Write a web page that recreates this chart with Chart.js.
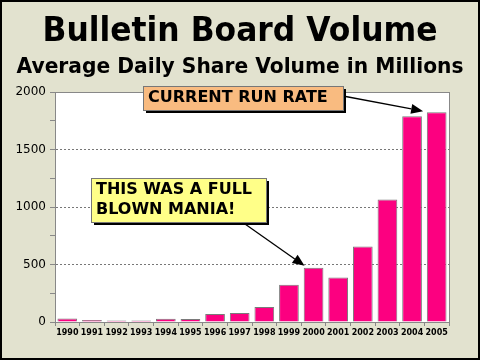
<!DOCTYPE html>
<html lang="en">
<head>
 <meta charset="UTF-8">
 <title>Bulletin Board Volume</title>
 <script src="https://cdn.jsdelivr.net/npm/chart.js"></script>
 <style>
 body { margin: 0; background: #e2e2cf; }
 </style>
</head>
<body>
 <canvas id="myChart" width="480" height="360"></canvas>
 <script>
 // Data (millions of shares per day)
 const years = ['1990', '1991', '1992', '1993', '1994', '1995', '1996', '1997',
 '1998', '1999', '2000', '2001', '2002', '2003', '2004', '2005'];
 const volume = [30, 18, 14, 14, 28, 27, 70, 78, 131, 325, 471, 387, 657, 1066, 1790, 1825];
 const yTicks = [0, 500, 1000, 1500, 2000];

 const titleText = 'Bulletin Board Volume';
 const subtitleText = 'Average Daily Share Volume in Millions';
 const noteMania = ['THIS WAS A FULL', 'BLOWN MANIA!'];
 const noteRun = ['CURRENT RUN RATE'];

 function arrow(ctx, x1, y1, x2, y2) {
 const a = Math.atan2(y2 - y1, x2 - x1);
 const len = 12, w = 5;
 const bx = x2 - len * Math.cos(a), by = y2 - len * Math.sin(a);
 ctx.strokeStyle = '#000';
 ctx.lineWidth = 1.3;
 ctx.beginPath();
 ctx.moveTo(x1, y1);
 ctx.lineTo(bx, by);
 ctx.stroke();
 ctx.fillStyle = '#000';
 ctx.beginPath();
 ctx.moveTo(x2, y2);
 ctx.lineTo(bx + w * Math.sin(a), by - w * Math.cos(a));
 ctx.lineTo(bx - w * Math.sin(a), by + w * Math.cos(a));
 ctx.closePath();
 ctx.fill();
 }

 function noteBox(ctx, x, y, w, h, fill, lines) {
 ctx.fillStyle = '#000';
 ctx.fillRect(x + 3, y + 3, w, h);
 ctx.fillStyle = fill;
 ctx.fillRect(x, y, w, h);
 ctx.strokeStyle = '#777';
 ctx.lineWidth = 1;
 ctx.strokeRect(x + 0.5, y + 0.5, w, h);
 ctx.fillStyle = '#000';
 ctx.font = 'bold 16px "DejaVu Sans"';
 ctx.textAlign = 'left';
 ctx.textBaseline = 'middle';
 lines.forEach((t, i) => ctx.fillText(t, x + 5, y + 12 + i * 20, w - 10));
 }

 const decor = {
 id: 'decor',
 beforeDraw(chart) {
 const { ctx, chartArea: a } = chart;
 ctx.save();
 ctx.fillStyle = '#e2e2cf';
 ctx.fillRect(0, 0, chart.width, chart.height);
 ctx.fillStyle = '#ffffff';
 ctx.fillRect(a.left, a.top, a.right - a.left, a.bottom - a.top);
 ctx.strokeStyle = '#000';
 ctx.lineWidth = 2;
 ctx.strokeRect(1, 1, chart.width - 2, chart.height - 2);
 // titles
 ctx.fillStyle = '#000';
 ctx.textAlign = 'center';
 ctx.textBaseline = 'alphabetic';
 ctx.font = 'bold 33px "DejaVu Sans"';
 ctx.fillText(titleText, 240, 41, 395);
 ctx.font = 'bold 21px "DejaVu Sans"';
 ctx.fillText(subtitleText, 240, 73, 447);
 ctx.restore();
 },
 afterDatasetsDraw(chart) {
 const { ctx, chartArea: a, scales: { x, y } } = chart;
 ctx.save();
 ctx.strokeStyle = '#888';
 ctx.lineWidth = 1;
 ctx.strokeRect(a.left + 0.5, a.top + 0.5, a.right - a.left, a.bottom - a.top);
 // arrow to 2000 bar
 const i00 = years.indexOf('2000');
 arrow(ctx, 245, 224, x.getPixelForValue(i00) - 9, y.getPixelForValue(volume[i00]) - 2);
 // arrow to the last two bars
 const i04 = years.indexOf('2004'), i05 = years.indexOf('2005');
 const tx = x.getPixelForValue(i04) + 0.45 * (x.getPixelForValue(i05) - x.getPixelForValue(i04));
 arrow(ctx, 343, 96, tx, y.getPixelForValue(volume[i05]) - 1);
 noteBox(ctx, 91, 178, 175, 44, '#ffff88', noteMania);
 noteBox(ctx, 143, 86, 200, 24, '#f9bb80', noteRun);
 ctx.restore();
 }
 };

 const ctx = document.getElementById('myChart').getContext('2d');
 new Chart(ctx, {
 type: 'bar',
 data: {
 labels: years,
 datasets: [{
 data: volume,
 backgroundColor: '#fc0080',
 borderColor: '#7a7a7a',
 borderWidth: 1,
 barPercentage: 0.8,
 categoryPercentage: 1
 }]
 },
 options: {
 responsive: false,
 animation: false,
 layout: { padding: { left: 10, right: 31, top: 92, bottom: 14 } },
 plugins: { legend: { display: false }, tooltip: { enabled: false } },
 scales: {
 x: {
 afterFit: s => { s.height = 24; },
 grid: { offset: true, drawOnChartArea: false, tickLength: 4, color: '#888' },
 border: { color: '#888' },
 ticks: { color: '#000', font: { family: 'DejaVu Sans', size: 8, weight: 'bold' }, maxRotation: 0, autoSkip: false, padding: 2 }
 },
 y: {
 min: 0,
 max: 2000,
 afterFit: s => { s.width = 45; },
 afterBuildTicks: s => {
 s.ticks = [];
 for (let v = 0; v <= 2000; v += 250) s.ticks.push({ value: v });
 },
 grid: {
 color: c => (c.tick && c.tick.value % 500 === 0 && c.tick.value > 0 && c.tick.value < 2000) ? '#777' : 'rgba(0,0,0,0)',
 tickColor: '#888',
 tickLength: 5
 },
 border: { color: '#888', dash: [2, 2] },
 ticks: {
 color: '#000',
 padding: 4,
 font: { family: 'DejaVu Sans', size: 12 },
 callback: v => yTicks.includes(v) ? String(v) : ''
 }
 }
 }
 },
 plugins: [decor]
 });
 </script>
</body>
</html>
